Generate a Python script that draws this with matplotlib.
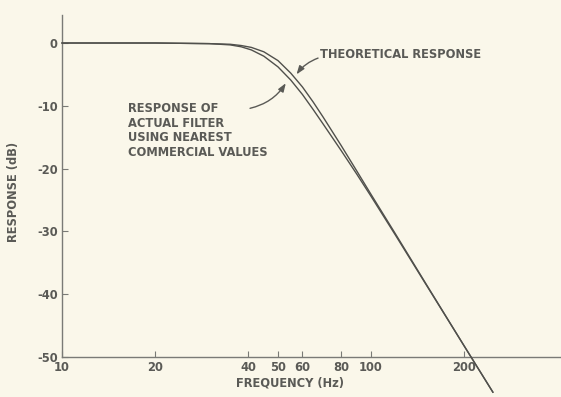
import matplotlib
matplotlib.use("Agg")
import matplotlib.pyplot as plt

plt.rcParams['axes.unicode_minus'] = False
plt.rcParams['font.family'] = ['DejaVu Sans']

# Data
freq_hz = [10, 20, 30, 35, 38, 41, 45, 50, 55, 60, 65, 70, 80, 90, 100, 120, 150, 200, 248]
theoretical_db = [0, 0, -0.1, -0.2, -0.4, -0.7, -1.4, -2.8, -4.8, -7.0, -9.4, -11.8, -16.3, -20.4, -24.1, -30.4, -38.2, -48.2, -55.6]
actual_db = [0, 0, -0.1, -0.3, -0.6, -1.1, -2.1, -3.8, -5.9, -8.2, -10.6, -12.9, -17.1, -20.9, -24.4, -30.6, -38.3, -48.2, -55.6]

xtick_vals = [10, 20, 40, 50, 60, 80, 100, 200]
xtick_labels = ['10', '20', '40', '50', '60', '80', '100', '200']
ytick_vals = [0, -10, -20, -30, -40, -50]
ytick_labels = ['0', '-10', '-20', '-30', '-40', '-50']

bg = '#faf7ea'
ink = '#5a5a56'
line_col = '#50504c'
axis_col = '#7a7a76'

W, H = 561, 397
fig = plt.figure(figsize=(W / 100, H / 100), dpi=100, facecolor=bg)
ax = fig.add_axes([62 / W, (H - 357) / H, (W - 62) / W, (357 - 15) / H])
ax.set_facecolor(bg)

ax.set_xscale('log')
ax.set_xlim(10, 412)
ax.set_ylim(-50, 4.46)

ax.plot(freq_hz, theoretical_db, color=line_col, lw=1.0, clip_on=False, zorder=3)
ax.plot(freq_hz, actual_db, color=line_col, lw=1.0, clip_on=False, zorder=3)

for s in ['top', 'right']:
    ax.spines[s].set_visible(False)
for s in ['left', 'bottom']:
    ax.spines[s].set_color(axis_col)
    ax.spines[s].set_linewidth(1.0)

fs = 8.3
ax.set_xticks(xtick_vals)
ax.set_xticklabels(xtick_labels, fontweight='bold')
ax.xaxis.set_minor_locator(matplotlib.ticker.NullLocator())
ax.set_yticks(ytick_vals)
ax.set_yticklabels(ytick_labels, fontweight='bold')
ax.tick_params(axis='both', direction='in', length=4, width=0.8, color=axis_col,
               labelsize=fs, labelcolor=ink)
ax.tick_params(axis='x', pad=3)
ax.tick_params(axis='y', pad=3)

ax.set_xlabel('FREQUENCY (Hz)', fontsize=fs, color=ink, fontweight='bold')
ax.xaxis.set_label_coords(0.457, -0.058)
ax.set_ylabel('RESPONSE (dB)', fontsize=fs, color=ink, fontweight='bold')
ax.yaxis.set_label_coords(-0.084, 0.482)

arrow_kw = dict(arrowstyle='-|>,head_length=0.5,head_width=0.18', color=ink, lw=1.0,
                shrinkA=0, shrinkB=0)

ax.text(68.4, -1.9, 'THEORETICAL RESPONSE', fontsize=fs, color=ink,
        ha='left', va='center', fontweight='bold')
ax.annotate('', xy=(57.4, -5.0), xytext=(67.4, -2.4),
            arrowprops=dict(connectionstyle='arc3,rad=0.15', **arrow_kw))

ax.text(16.4, -13.9, 'RESPONSE OF\nACTUAL FILTER\nUSING NEAREST\nCOMMERCIAL VALUES',
        fontsize=fs, color=ink, ha='left', va='center', linespacing=1.15,
        fontweight='bold')
ax.annotate('', xy=(53.0, -6.4), xytext=(40.6, -10.4),
            arrowprops=dict(connectionstyle='arc3,rad=0.2', **arrow_kw))

fig.savefig('out.png', dpi=100, facecolor=bg)
